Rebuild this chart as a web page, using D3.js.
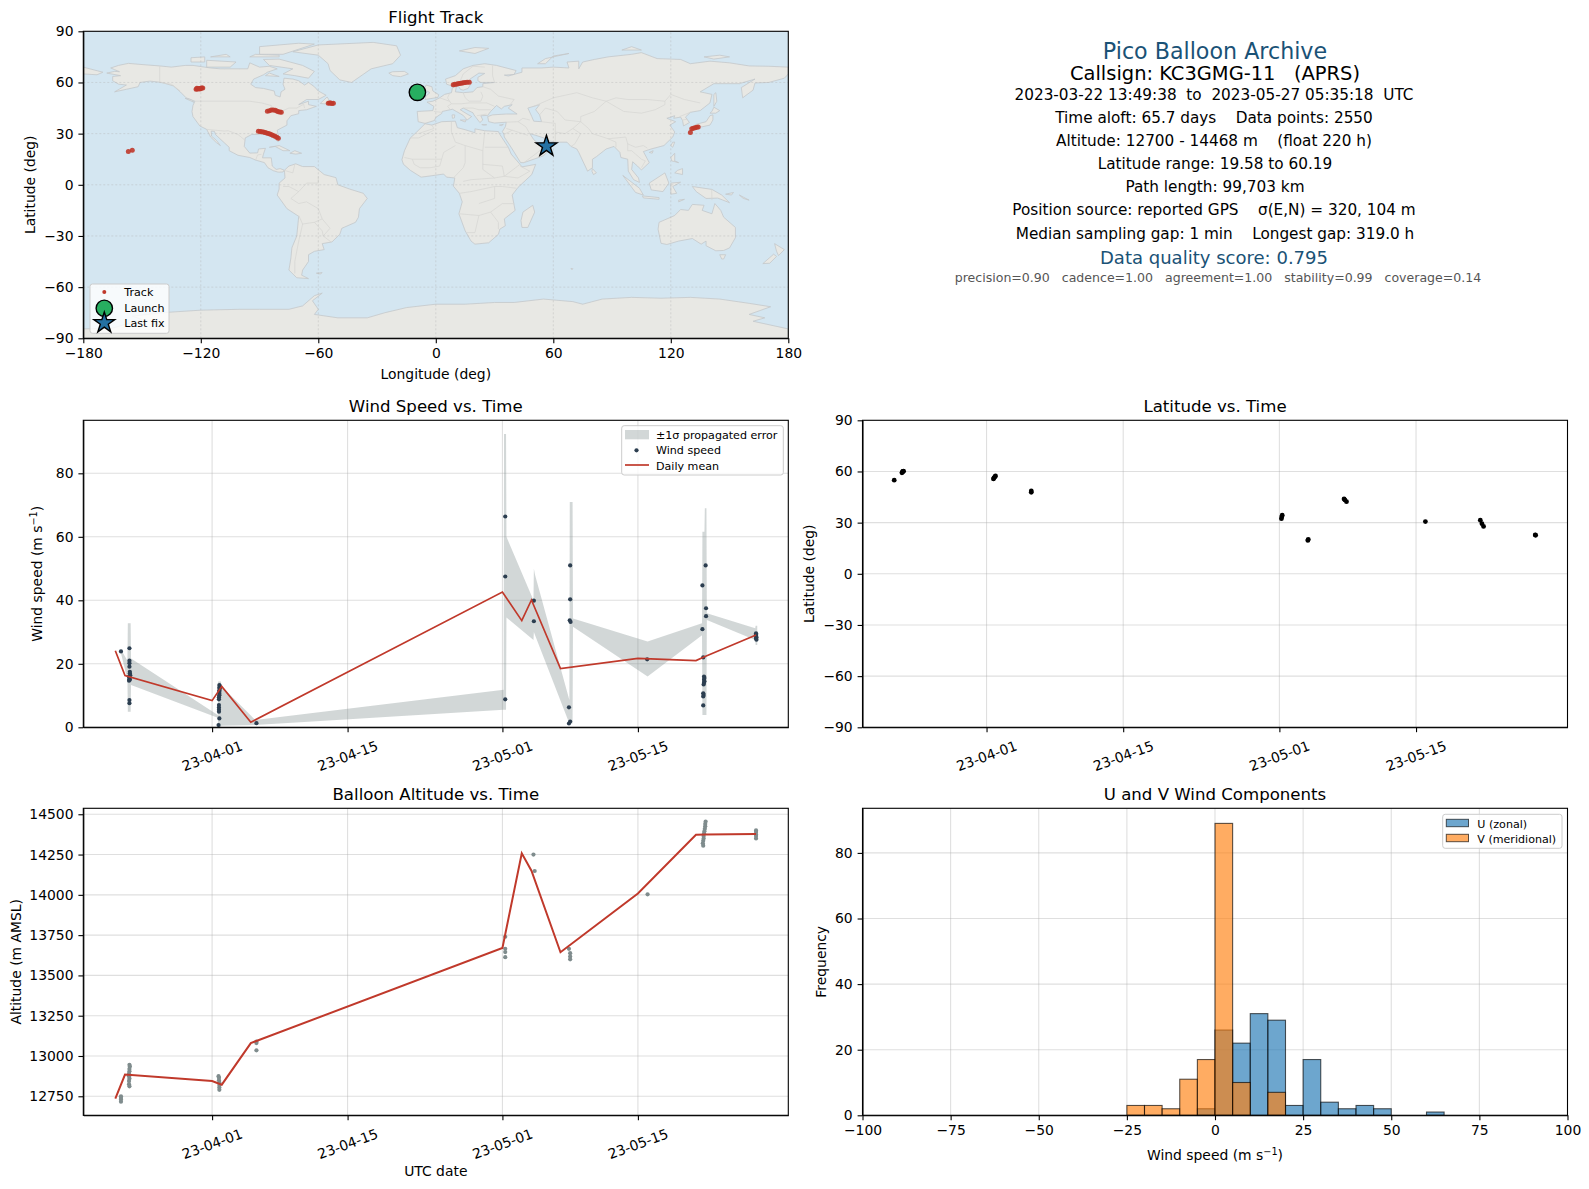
<!DOCTYPE html>
<html>
<head>
<meta charset="UTF-8">
<title>Pico Balloon Archive</title>
<script src="https://d3js.org/d3.v7.min.js"></script>
<style>
    body { margin: 0; background: #fff; }
    text { font-family: "DejaVu Sans", sans-serif; fill: #000; white-space: pre; }
    .tick line, .domain { stroke: #000; stroke-width: 1.1px; }
</style>
</head>
<body>
<svg id="fig" width="1589" height="1189"></svg>
<script>
// ---- values ----
var dateTicks = ["2023-04-01", "2023-04-15", "2023-05-01", "2023-05-15"];

var meanTimes = ["03-22 00", "03-23 00", "04-01 00", "04-02 00", "04-05 00", "05-01 00", "05-03 00", "05-04 00", "05-07 00", "05-15 00", "05-21 00", "05-22 00", "05-27 05"];
var meanWind = [24.1, 16.3, 8.4, 12.9, 1.6, 42.6, 33.6, 40.1, 18.5, 21.7, 21, 22.4, 29.1];
var meanAlt = [12735, 12885, 12845, 12822, 13080, 13670, 14258, 14150, 13644, 14008, 14373, 14375, 14378];

var bandTimes = ["03-22 14", "03-23 06", "03-23 07", "03-23 14", "03-23 15", "04-01 14", "04-01 15", "04-01 22", "04-01 23", "04-05 11", "05-01 03", "05-01 04", "05-01 09", "05-01 10", "05-04 05", "05-04 06", "05-04 09", "05-07 22", "05-07 23", "05-08 06", "05-08 07", "05-16 00", "05-21 15", "05-21 16", "05-21 21", "05-21 22", "05-22 02", "05-22 03", "05-27 03", "05-27 04", "05-27 08"];
var bandUpper = [24.5, 21, 32.8, 32.8, 21.7, 3.9, 14.4, 14.4, 13, 2.3, 11.8, 92.4, 92.4, 60, 40, 50, 48, 8.6, 71, 71, 34.3, 27, 32.8, 61.6, 61.6, 69, 69, 35.9, 31.2, 32, 32];
var bandLower = [23.3, 15, 4.9, 4.9, 13.3, 3, 0, 0, 0.5, 0.7, 5.5, 5.5, 5.5, 34.6, 27.5, 30, 29, 1.2, 1.2, 1.2, 31.7, 16, 29, 3.9, 3.9, 3.9, 3.9, 33.8, 27.5, 25.9, 25.9];

var windTimes = ["03-22 14", "03-23 11", "03-23 11", "03-23 11", "03-23 11", "03-23 12", "03-23 12", "03-23 13", "03-23 10", "03-23 11", "03-23 11", "03-23 12", "03-23 10", "03-23 11", "03-23 11",
    "04-01 18", "04-01 19", "04-01 18", "04-01 19", "04-01 18", "04-01 18", "04-01 18", "04-01 18", "04-01 17", "04-01 17", "04-01 17", "04-01 17", "04-01 17", "04-01 17", "04-01 18", "04-01 16", "04-05 14",
    "05-01 07", "05-01 07", "05-01 07", "05-04 06", "05-04 06", "05-07 21", "05-07 21", "05-08 00", "05-08 00", "05-08 00", "05-07 23", "05-08 01",
    "05-15 23", "05-22 00", "05-21 16", "05-22 01", "05-22 01", "05-21 16", "05-21 18", "05-21 20", "05-21 21", "05-21 20", "05-21 21", "05-21 20", "05-21 19", "05-21 18", "05-21 19", "05-21 18", "05-21 18",
    "05-27 05", "05-27 05", "05-27 05", "05-27 06", "05-27 05", "05-27 06"];
var windValues = [23.9, 24.9, 21, 20.2, 19.1, 17.5, 17, 16.4, 16, 15.6, 15.1, 15, 14.7, 8.6, 7.6,
    13.3, 13, 12.5, 12.2, 11.7, 11.2, 10.6, 10.1, 9.5, 8.8, 7, 6.2, 5.5, 4.9, 2.8, 0.7, 1.3,
    66.4, 47.5, 8.8, 39.9, 33.4, 6.3, 1.2, 1.8, 51, 40.3, 33.7, 33.2,
    21.4, 51, 44.7, 37.5, 35, 30.9, 22, 16, 15.5, 15, 14.5, 14, 13.5, 10.7, 10.2, 9.7, 6.9,
    29.6, 29.2, 28.8, 28.4, 28, 27.6];

var latTimes = ["03-22 13", "03-23 08", "03-23 09", "03-23 10", "03-23 11", "03-23 12", "04-01 17", "04-01 18", "04-01 20", "04-01 21", "04-01 22", "04-05 14", "04-05 14", "05-01 05", "05-01 06", "05-01 07", "05-03 22", "05-03 23", "05-07 15", "05-07 17", "05-07 21", "05-15 23", "05-21 14", "05-21 18", "05-21 22", "05-27 05", "05-27 06"];
var latValues = [54.9, 59.2, 59.6, 60, 60.1, 60.19, 55.6, 56.1, 56.7, 57, 57.4, 48.6, 47.8, 32.3, 33.4, 34.4, 19.58, 20.2, 43.9, 43.3, 42.3, 30.6, 31.4, 29.4, 27.8, 22.8, 22.6];

var altTimes = ["03-22 14", "03-22 14", "03-22 14", "03-22 14",
    "03-23 11", "03-23 12", "03-23 11", "03-23 11", "03-23 10", "03-23 10", "03-23 11", "03-23 10", "03-23 10", "03-23 11",
    "04-01 16", "04-01 17", "04-01 17", "04-01 18", "04-01 18", "04-01 18", "04-01 18",
    "04-05 14", "04-05 14", "04-05 14",
    "05-01 07", "05-01 07", "05-01 07", "05-01 07",
    "05-04 05", "05-04 08",
    "05-07 21", "05-08 00", "05-08 00", "05-08 00",
    "05-16 00",
    "05-22 00", "05-21 23", "05-21 23", "05-21 22", "05-21 21", "05-21 20", "05-21 19", "05-21 19", "05-21 18", "05-21 17", "05-21 18",
    "05-27 05", "05-27 05", "05-27 05", "05-27 05", "05-27 05"];
var altValues = [12750, 12740, 12730, 12716,
    12945, 12935, 12920, 12905, 12890, 12875, 12860, 12845, 12825, 12812,
    12875, 12865, 12850, 12835, 12820, 12805, 12790,
    13090, 13080, 13035,
    13740, 13665, 13645, 13613,
    14250, 14148,
    13665, 13638, 13617, 13600,
    14003,
    14455, 14440, 14425, 14410, 14395, 14380, 14365, 14350, 14335, 14320, 14305,
    14400, 14390, 14375, 14365, 14350];

var binEdges = [-25, -20, -15, -10, -5, 0, 5, 10, 15, 20, 25, 30, 35, 40, 45, 50, 55, 60, 65];
var uCounts = [0, 0, 0, 0, 2, 26, 22, 31, 29, 3, 17, 4, 2, 3, 2, 0, 0, 1];
var vCounts = [3, 3, 2, 11, 17, 89, 10, 0, 7, 0, 0, 0, 0, 0, 0, 0, 0, 0];

var trackLon = [-157, -155, -122.4, -121.8, -121.2, -120.6, -120, -119.5, -119, -122, -120.5, -54.9, -54.2, -53.6, -53, -52.3, -86, -85, -84, -83, -82, -81.2, -80.4, -79.6, -78.9, -90.6, -89.7, -88.9, -88, -87.2, -86.4, -85.5, -84.7, -83.8, -83, -82.1, -81.2, -80.4, 8.9, 9.7, 10.5, 11.2, 12, 12.8, 13.5, 14.2, 15, 16, 17.1, 130, 130.7, 131.5, 132.4, 133.2, 134];
var trackLat = [19.58, 20.2, 56, 56.2, 56.3, 56.5, 56.6, 56.7, 56.8, 56.6, 56.2, 47.8, 48, 47.9, 47.7, 47.8, 43.1, 43.4, 43.9, 43.9, 43.7, 43.3, 42.9, 42.7, 42.5, 31.4, 31.3, 31.1, 30.9, 30.6, 30.4, 30.1, 29.8, 29.3, 28.9, 28.4, 27.9, 27.3, 58.7, 58.9, 59, 59.2, 59.4, 59.5, 59.7, 59.9, 60, 60.1, 60.19, 30.6, 32.9, 33.1, 33.5, 33.7, 33.9];
var launchPos = [-9.4, 54.2];
var lastFix = [56.5, 22.6];

var infoLines = [
    ["Pico Balloon Archive", 50.7, 22.2, "#1a5276", 0],
    ["Callsign: KC3GMG-11   (APRS)", 73.5, 19.44, "#000", 0],
    ["2023-03-22 13:49:38  to  2023-05-27 05:35:18  UTC", 94.5, 15.28, "#000", -1],
    ["Time aloft: 65.7 days    Data points: 2550", 117.6, 15.28, "#000", -1],
    ["Altitude: 12700 - 14468 m    (float 220 h)", 140.8, 15.28, "#000", -1],
    ["Latitude range: 19.58 to 60.19", 163.5, 15.28, "#000", 0],
    ["Path length: 99,703 km", 186.5, 15.28, "#000", 0],
    ["Position source: reported GPS    \u03c3(E,N) = 320, 104 m", 209.8, 15.28, "#000", -1],
    ["Median sampling gap: 1 min    Longest gap: 319.0 h", 233, 15.28, "#000", 0],
    ["Data quality score: 0.795", 257.3, 18.05, "#1a5276", -1],
    ["precision=0.90   cadence=1.00   agreement=1.00   stability=0.99   coverage=0.14", 277.7, 12.55, "#555", 3]
];

// rough coastlines, lon/lat
var land = [
    [[-168,65.5],[-164,66.5],[-161.5,66.3],[-164,67.5],[-166,68.5],[-162,70],[-157,71.2],[-150,70.5],[-141,69.7],[-135,69],[-128,70],[-124,70],[-115,68.5],[-110,68],[-108,68],[-100,68],[-96,68],[-95,71.5],[-90,69],[-85,69.5],[-81,68],[-86,66],[-88,64.5],[-93,62],[-94.5,59],[-92,57],[-88,56.5],[-82.5,55],[-82,52.5],[-79.5,51.5],[-79,54.5],[-77,56],[-78,59],[-77.5,62.5],[-73,62],[-70,61],[-67,58.5],[-65,60],[-62,57.5],[-60,55],[-56,52.5],[-60,50],[-66,50],[-70,47],[-65,49],[-65,47],[-61,46],[-66,44],[-70,43.5],[-70,41.7],[-74,40.5],[-76,37.5],[-76,35],[-81,32],[-80,27],[-80.5,25.2],[-82,27],[-83,29.5],[-85,29.7],[-90,29.5],[-94,29.5],[-97.3,27.5],[-97.8,22.5],[-95,18.6],[-91,18.7],[-90.5,21],[-87,21.4],[-88,18],[-88.5,15.8],[-84,15.8],[-83.5,11],[-81.5,9],[-79.5,9.5],[-77.4,8.6],[-78,7.5],[-80.5,7.4],[-83,8.3],[-85.7,10],[-87.5,13],[-92,14.5],[-95,16],[-101,17.3],[-105.5,20],[-105.5,22],[-109,25.7],[-112.5,29.5],[-113,31.3],[-114.7,31.5],[-114.5,28.5],[-112,26],[-110,23],[-112,24.7],[-115,28],[-117,32.5],[-120.5,34.5],[-124,40],[-124.5,43],[-124,46.5],[-123,49],[-127.5,51],[-130.5,54.5],[-134,58],[-140,60],[-146,60.8],[-151,60],[-152,57.5],[-158,56],[-164,54.5],[-158,58.5],[-162,59],[-165,61],[-165,63.5],[-161,64]],
    [[-9,37],[-9.5,43],[-1.5,43.5],[-1,46],[-4.5,48.5],[-1.5,49],[2,51],[4.5,53],[8,54],[8.5,57],[10.5,57.5],[10,54.5],[14,54],[19,54.5],[21,57],[24,57.5],[24,59.3],[30,60],[23,60],[21.5,61],[21.5,63],[25,65.3],[22,65.5],[17.5,62],[18,59.5],[16.5,56.5],[14,55.5],[12.5,56],[11,59],[8,58],[5.5,59],[5,62],[10,64],[14,68],[19,70],[25,71],[31,70],[41,67],[40,64.7],[35,64.3],[37,63.8],[44,66],[44,68.5],[54,68.5],[60,69],[68,68.5],[67,72],[73,72.5],[73,68],[75,72],[81,73.5],[88,75],[100,76.5],[105,77.5],[113,74],[125,73.5],[130,71],[140,72.5],[150,71.5],[160,69.7],[170,69.5],[180,69],[180,65],[178,62.5],[170,60],[163,59.7],[162,55.5],[156.7,51],[156,57],[163,62],[155,59.3],[142,59.3],[135,54.5],[141,53],[140,48],[135,43.5],[130,42.5],[127.5,39.7],[129.5,36.5],[126.5,34.5],[126,37.7],[125,39.7],[121.5,39],[122,40.5],[118,39],[122.5,37],[119.5,35],[122,31],[121,28],[116.5,23],[110,21],[106,19.5],[109,13],[105,8.7],[103,11],[100.5,13.5],[100,9],[103.5,4],[104,1.4],[101,3],[98.3,8],[98,15],[94.5,16],[94,19],[91,22.5],[87,21],[82,16.5],[80,15],[80,10],[77.5,8],[73,19],[72,21],[69,22.5],[67,25],[61,25],[57,26],[56.5,27],[51,29],[48,30],[50,26.5],[51.5,25],[54,24],[56,25.5],[59.5,22.5],[55,17],[45,13],[43.3,13],[39,21],[35,28],[34.8,29.5],[34,31.2],[35.5,34],[36,36.7],[30,36.2],[27,37],[26.5,40],[29,41],[36,41.5],[41.5,41.5],[37,45],[39,47],[35,46],[33.5,44.5],[31,46.5],[28,43],[26.5,40.7],[23,40.5],[24,38],[22.5,36.5],[19.5,41],[19,42.2],[14,45],[12.5,44],[16,41.5],[18.3,40],[16,38],[14,40.7],[10.5,43],[8.5,44.3],[3.3,43],[3,41.8],[0,39.5],[-0.7,37.7],[-5.5,36]],
    [[-180,69],[-175,67.5],[-170,66],[-173,64.5],[-180,65]],
    [[-5.5,35.8],[-2,35],[3,37],[10,37.3],[11,33.5],[15,32.3],[20,30.5],[20,32.8],[25,31.7],[32,31.2],[32.5,29.9],[37,22],[38.5,18],[43,12],[44,10.5],[51,12],[49,6],[42,-1.5],[39,-6],[40.5,-15],[35,-20],[35.5,-24],[32.7,-26],[32,-29],[27,-34],[20,-34.8],[18,-33],[15,-27],[11.8,-17],[13.5,-10],[12,-5],[9,-0.8],[9.7,4],[5.5,4.5],[4,6.3],[-4,5],[-7.5,4.5],[-13,8.5],[-16.5,12],[-17.3,14.7],[-16,20],[-13,27.5],[-9.7,31]],
    [[-77.3,8.5],[-75,11],[-71.5,12.3],[-68,10.7],[-62,10.7],[-57,6],[-51,4.2],[-50,0],[-44,-2.5],[-37,-5],[-35,-8],[-39,-14],[-39.5,-19],[-41,-22],[-48,-25.5],[-49,-29],[-53,-33.5],[-58,-34.5],[-57,-38],[-62,-39],[-65,-41],[-65,-45],[-68,-50],[-68.5,-53],[-65,-55],[-71,-54.5],[-75,-50],[-74,-43],[-73.5,-37],[-71,-30],[-70,-18.5],[-76,-14],[-81,-6],[-80,-2.5],[-80,1],[-77,4]],
    [[114,-22],[113.5,-26],[115,-34.3],[118,-35],[124,-33],[131,-31.5],[135.5,-34.8],[138,-33],[138,-35.7],[143,-38.7],[147,-38.5],[150,-37],[153,-31],[153,-25],[147,-19],[145.5,-15],[142.5,-11],[141,-17],[136,-15],[137,-12],[131,-11.5],[129,-15],[125,-14.5],[122,-18]],
    [[-73,78],[-60,82],[-32,83.5],[-20,81.5],[-18,76],[-22,71],[-33,68],[-43,60],[-49,61.5],[-54,67],[-55,71],[-60,76]],
    [[-180,-90],[-180,-84.5],[-165,-84],[-150,-79],[-155,-77],[-140,-75],[-120,-73.5],[-100,-73],[-90,-73],[-75,-73],[-68,-71],[-62,-65],[-58,-63.5],[-63,-68],[-60,-73],[-62,-76],[-50,-78],[-35,-78],[-26,-75],[-15,-72],[0,-70],[15,-70],[30,-69],[40,-69],[55,-67],[70,-68.5],[75,-70],[85,-67],[100,-66],[115,-66.5],[130,-66],[145,-67],[160,-69.5],[171,-71.5],[160,-76],[168,-78],[162,-80],[180,-84.5],[180,-90]],
    [[-5.5,50],[1,51.2],[1.5,52.8],[-1.5,55],[-2,57.5],[-5,58.5],[-6,56],[-3,54],[-5,52]],
    [[-10,52],[-6,52.2],[-6,55],[-9.5,54.5]],
    [[-24,65.5],[-22,64],[-18,63.4],[-14,65],[-16,66.5],[-22,66.3]],
    [[12,78.5],[20,80.5],[27,80],[20,77]],
    [[52,71],[56,74],[68,77],[60,75.5],[56,71]],
    [[95,79],[105,79],[100,81]],
    [[137,75],[145,76],[150,75],[142,73.7]],
    [[142,46],[143.5,49],[143,54],[142,53]],
    [[131,34],[136,34],[140,35],[141.5,38],[141.5,41],[140,40.5],[138,37],[133,35.5]],
    [[140,42],[143,42],[145,43.5],[142,45.5],[141,43]],
    [[130,31.5],[132,33],[130,33.5]],
    [[120,23],[121,25],[122,25],[121,22]],
    [[109,19],[111,20],[110.5,18.5]],
    [[120,16],[122,18.5],[122,14],[124,13],[120.5,14]],
    [[122,7],[126,6],[126,9.5],[123.5,8.5]],
    [[109,1],[117,7],[119,1],[116,-4],[110,-3]],
    [[95.5,5.5],[104,-2],[106,-6],[102,-4.5]],
    [[105.5,-6.5],[114,-7.5],[114,-8.5],[106,-7.7]],
    [[120,1],[125,1.5],[121,-1],[123,-5],[120,-5.5]],
    [[124,-10],[127,-8.5],[124,-9]],
    [[131,-1],[141,-2.7],[146,-6],[150,-10.5],[144,-7.8],[138,-8],[133,-4]],
    [[148,-5.5],[152,-4.5],[151,-6]],
    [[155,-6],[160,-9],[157,-8]],
    [[173,-34.5],[178,-38],[175,-41.5],[174,-39]],
    [[172.5,-40.7],[174,-42],[170.5,-46],[167,-46.2]],
    [[145,-41],[148,-41],[147,-43.5],[146,-43.5]],
    [[49.5,-12],[50.5,-16],[47,-25],[44,-25],[43.5,-21],[44.5,-16]],
    [[80,9.5],[82,7],[80.5,6],[79.7,8]],
    [[-85,22],[-80,23],[-74.5,20],[-78,20],[-82,22.5]],
    [[-74.5,18.5],[-72,20],[-68.5,18.5],[-71.5,18]],
    [[-59,47.7],[-55.5,51.5],[-53,47]],
    [[-128,50.7],[-123.5,48.4],[-125,50]],
    [[-80,73.7],[-68,70],[-62,66.5],[-65,62.5],[-72,64],[-78,65],[-73,68],[-85,70],[-88,73.5]],
    [[-117,69],[-105,69],[-102,72],[-117,73]],
    [[-125,72],[-118,72],[-118,75],[-125,74.5]],
    [[-90,76.5],[-78,76.5],[-62,82.5],[-70,83],[-90,81]],
    [[-95,75],[-80,75],[-80,76],[-92,76.5]],
    [[-115,75],[-105,75],[-107,76.5]],
    [[-87,64],[-80,63.5],[-85,65.5]],
    [[-61,-51.8],[-58,-51.5],[-59,-52.3]],
    [[69,-49],[70,-49.2],[69.5,-49.8]],
    [[-156,20],[-155,19.2],[-155.7,20.2]],
    [[23.5,35.3],[26,35.2],[24.5,35]],
    [[12.5,38],[15.5,38],[15,36.8]],
    [[8.3,41],[9.7,41],[9.5,39.2],[8.5,39]],
    [[32.5,35],[34.5,35.5],[33.7,34.7]]
];
var lakes = [
    [[47,45],[53,47],[51,44],[53,41],[54,37],[50,37.3],[49,40]]
];
var borders = [
    [[-123,49],[-95,49],[-89,48],[-84,46.5],[-82.5,43],[-79,43],[-75,45],[-71,45],[-67.5,47.2],[-67,45]],
    [[-141,69.7],[-141,60],[-135,59],[-130.5,55]],
    [[-117,32.5],[-108,31.5],[-106,31.7],[-101,29.5],[-97.3,26]],
    [[-92,14.5],[-91,17.5],[-89,17.9]],
    [[-77.5,8.5],[-73,7],[-72,12]],
    [[-70,-4],[-74,-8],[-70,-11],[-66,-10],[-60,-14],[-58,-20],[-54,-25.5],[-57.5,-30],[-53.5,-33.5]],
    [[-70,-18],[-68,-23],[-70,-33],[-72,-45],[-72,-52]],
    [[-60,5],[-60,1],[-66,1],[-70,-4]],
    [[-78,-1],[-75,-1],[-70,-4]],
    [[-68,-23],[-62,-22],[-58,-20]],
    [[-62,-22],[-58,-27],[-57.5,-30]],
    [[-1,43],[3,42.5]],
    [[2,51],[7,49],[8,47.5],[6,46],[7.5,44]],
    [[7,53.5],[6,51],[7,49]],
    [[14,54],[15,51],[17,49],[23,49],[24,52],[23,54.5]],
    [[8,47.5],[13,47.5],[17,48],[22,48],[26,48],[30,46]],
    [[12,59],[12.5,61],[14,65],[19,69.5],[25,69]],
    [[30,60],[29,64],[29,70]],
    [[24,57.5],[28,56],[32,52],[40,50],[38,47]],
    [[14,45],[19,45],[22,44],[28,44]],
    [[21,40.5],[26,41.5]],
    [[36,36.7],[42,37],[44.5,39],[48,38]],
    [[42,37],[46,34],[48,30]],
    [[36,33],[39,32],[47,29]],
    [[45,13],[52,19],[55,22],[56,25]],
    [[39,32],[34.8,29.5]],
    [[61,25],[61,31],[61,36],[54,37]],
    [[61,31],[66,30],[70,33],[74,37]],
    [[53,41],[56,45],[62,43],[66,38],[74,37]],
    [[50,46],[60,51],[72,54],[80,51],[87,49]],
    [[87,49],[92,51],[98,50],[108,50],[117,49],[120,53],[127,50],[135,48]],
    [[87,49],[81,43],[74,40],[74,37]],
    [[87,49],[96,43],[105,42],[112,44],[117,47],[117,49]],
    [[74,37],[78,33],[80,30],[88,27],[97,28],[98,24],[102,22],[106,23],[108,21.5]],
    [[70,33],[74,30],[71,24],[69,22.5]],
    [[88,27],[92,25],[92,22]],
    [[98,24],[98,20],[100,20],[102,18],[105,15],[107,14],[105,10]],
    [[124.5,40],[130,42.5]],
    [[126,38],[128.5,38.5]],
    [[-9,30],[-1,33],[-2,35]],
    [[-13,27.5],[-8.7,27.5],[-1,32]],
    [[8,37],[8,31],[10,25],[15,23],[24,20],[25,31.7]],
    [[25,22],[37,22]],
    [[-16,16],[-12,15],[-5,15],[3,15],[4,19],[10,23]],
    [[-12,15],[-11,12],[-8,10],[-3,10],[2,11],[3,15]],
    [[15,23],[15,13],[14,10],[9,4]],
    [[24,20],[24,9],[30,4],[35,5],[42,4]],
    [[24,12],[34,11],[35,5],[43,12]],
    [[42,4],[48,8],[43,11]],
    [[12,-5],[18,-4],[30,-1],[34,-1],[41,-2]],
    [[14,2],[18,3],[30,4]],
    [[12,-17],[22,-18],[28,-16],[34,-11],[40,-11]],
    [[22,-18],[20,-28],[16,-28]],
    [[28,-16],[32,-22],[32,-26]],
    [[22,-11],[30,-8],[30,-1]],
    [[140.9,-2.7],[141,-9]]
];

// ---- layout ----
var col1 = [83.3, 788.3], col2 = [862.5, 1567.5];
var row1 = [338.3, 31.3], row2 = [727.3, 420.3], row3 = [1115.3, 808.3];
var parseT = d3.utcParse("%Y-%m-%d %H");
var T = function(s) { return parseT("2023-" + s); };
var parseD = d3.utcParse("%Y-%m-%d");
var tickDates = dateTicks.map(function(d) { return parseD(d); });
var tickFmt = d3.utcFormat("%y-%m-%d");
var minusFmt = function(d) { return String(d).replace("-", "\u2212"); };

var svg = d3.select("#fig");
var fig = svg.append("g");
var defs = svg.append("defs");

function panel(x, y, id) {
    defs.append("clipPath").attr("id", id).append("rect")
        .attr("x", x.range()[0]).attr("y", y.range()[1])
        .attr("width", x.range()[1] - x.range()[0]).attr("height", y.range()[0] - y.range()[1]);
    return fig.append("g").attr("clip-path", "url(#" + id + ")");
}

function grid(g, x, xVals, y, yVals, dash) {
    g.selectAll(".vg").data(xVals).enter().append("line")
        .attr("x1", function(d) { return x(d); }).attr("x2", function(d) { return x(d); })
        .attr("y1", y.range()[0]).attr("y2", y.range()[1])
        .attr("stroke", "#b0b0b0").attr("stroke-opacity", dash ? 0.55 : 0.4).attr("stroke-width", dash ? 0.7 : 1.1)
        .attr("stroke-dasharray", dash ? "2,2" : null);
    g.selectAll(".hg").data(yVals).enter().append("line")
        .attr("x1", x.range()[0]).attr("x2", x.range()[1])
        .attr("y1", function(d) { return y(d); }).attr("y2", function(d) { return y(d); })
        .attr("stroke", "#b0b0b0").attr("stroke-opacity", dash ? 0.55 : 0.4).attr("stroke-width", dash ? 0.7 : 1.1)
        .attr("stroke-dasharray", dash ? "2,2" : null);
}

function frame(x, y, xAxis, yAxis, rotate) {
    var g = fig.append("g");
    var xg = g.append("g").attr("transform", "translate(0," + y.range()[0] + ")").call(xAxis.tickSizeInner(4.9).tickSizeOuter(0).tickPadding(4.9));
    var yg = g.append("g").attr("transform", "translate(" + x.range()[0] + ",0)").call(yAxis.tickSizeInner(4.9).tickSizeOuter(0).tickPadding(4.9));
    g.selectAll(".tick text").style("font-size", "13.9px").style("font-family", '"DejaVu Sans"').attr("fill", "#000");
    g.append("rect").attr("x", x.range()[0]).attr("y", y.range()[1])
        .attr("width", x.range()[1] - x.range()[0]).attr("height", y.range()[0] - y.range()[1])
        .attr("fill", "none").attr("stroke", "#000").attr("stroke-width", 1.1);
    if (rotate) {
        xg.selectAll(".tick text").attr("text-anchor", "middle").attr("y", 0).attr("dy", 0)
            .attr("transform", "translate(0,29.5) rotate(-20)").attr("dominant-baseline", "middle");
    }
}

function title(x, y, s) {
    fig.append("text").attr("x", (x.range()[0] + x.range()[1]) / 2).attr("y", y.range()[1] - 8.5)
        .attr("text-anchor", "middle").style("font-size", "16.6px").text(s);
}
function xlabel(x, yPos, s) {
    return fig.append("text").attr("x", (x.range()[0] + x.range()[1]) / 2).attr("y", yPos)
        .attr("text-anchor", "middle").style("font-size", "13.9px").text(s);
}
function ylabel(xPos, y, s) {
    return fig.append("text").attr("transform", "translate(" + xPos + "," + (y.range()[0] + y.range()[1]) / 2 + ") rotate(-90)")
        .attr("text-anchor", "middle").style("font-size", "13.9px").text(s);
}
function unitLabel(t, before) {
    t.text(before);
    t.append("tspan").attr("dy", -5).style("font-size", "9.7px").text("\u22121");
    t.append("tspan").attr("dy", 5).text(")");
}
function legendBox(x0, y0, w, h) {
    fig.append("rect").attr("x", x0).attr("y", y0).attr("width", w).attr("height", h).attr("rx", 2.5)
        .attr("fill", "#fff").attr("fill-opacity", 0.8).attr("stroke", "#ccc").attr("stroke-width", 1);
}
function legendText(x0, y0, s) {
    fig.append("text").attr("x", x0).attr("y", y0).attr("dy", "0.36em").style("font-size", "11.1px").text(s);
}

// ---- flight track map ----
var xMap = d3.scaleLinear().domain([-180, 180]).range(col1);
var yMap = d3.scaleLinear().domain([-90, 90]).range(row1);
var gMap = panel(xMap, yMap, "clipMap");
gMap.append("rect").attr("x", col1[0]).attr("y", row1[1]).attr("width", col1[1] - col1[0]).attr("height", row1[0] - row1[1]).attr("fill", "#d4e6f1");
var landLine = d3.line().x(function(d) { return xMap(d[0]); }).y(function(d) { return yMap(d[1]); });
gMap.selectAll(".land").data(land).enter().append("path")
    .attr("d", function(d) { return landLine(d) + "Z"; })
    .attr("fill", "#e8e8e4").attr("stroke", "#c4c8ca").attr("stroke-width", 0.8).attr("stroke-linejoin", "round");
gMap.selectAll(".lake").data(lakes).enter().append("path")
    .attr("d", function(d) { return landLine(d) + "Z"; })
    .attr("fill", "#d4e6f1").attr("stroke", "#c4c8ca").attr("stroke-width", 0.8);
gMap.selectAll(".border").data(borders).enter().append("path")
    .attr("d", landLine).attr("fill", "none").attr("stroke", "#d6d6d2").attr("stroke-width", 0.7);
grid(gMap, xMap, [-120, -60, 0, 60, 120], yMap, [-60, -30, 0, 30, 60], true);
gMap.selectAll(".trk").data(trackLon).enter().append("circle")
    .attr("cx", function(d) { return xMap(d); })
    .attr("cy", function(d, i) { return yMap(trackLat[i]); })
    .attr("r", 2.5).attr("fill", "#c0392b").attr("fill-opacity", 0.9);
var starPath = d3.symbol().type(d3.symbolStar).size(135);
gMap.append("circle").attr("cx", xMap(launchPos[0])).attr("cy", yMap(launchPos[1])).attr("r", 8.2)
    .attr("fill", "#27ae60").attr("stroke", "#000").attr("stroke-width", 1.4);
gMap.append("path").attr("d", starPath()).attr("transform", "translate(" + xMap(lastFix[0]) + "," + yMap(lastFix[1]) + ")")
    .attr("fill", "#2471a3").attr("stroke", "#000").attr("stroke-width", 1.4);
frame(xMap, yMap, d3.axisBottom(xMap).tickValues([-180, -120, -60, 0, 60, 120, 180]).tickFormat(minusFmt),
    d3.axisLeft(yMap).tickValues([-90, -60, -30, 0, 30, 60, 90]).tickFormat(minusFmt));
title(xMap, yMap, "Flight Track");
xlabel(xMap, 379, "Longitude (deg)");
ylabel(35, yMap, "Latitude (deg)");
legendBox(90, 284, 79, 49.3);
fig.append("circle").attr("cx", 104.3).attr("cy", 292).attr("r", 2).attr("fill", "#c0392b");
fig.append("circle").attr("cx", 104.3).attr("cy", 308.3).attr("r", 8.2).attr("fill", "#27ae60").attr("stroke", "#000").attr("stroke-width", 1.4);
fig.append("path").attr("d", starPath()).attr("transform", "translate(104.3,323)").attr("fill", "#2471a3").attr("stroke", "#000").attr("stroke-width", 1.4);
legendText(124.3, 292, "Track");
legendText(124.3, 308.3, "Launch");
legendText(124.3, 323, "Last fix");

// ---- info panel ----
var infoX = (col2[0] + col2[1]) / 2;
fig.selectAll(".info").data(infoLines).enter().append("text")
    .attr("x", function(d) { return infoX + d[4]; }).attr("y", function(d) { return d[1]; }).attr("dy", "0.36em")
    .attr("text-anchor", "middle")
    .style("font-size", function(d) { return d[2] + "px"; })
    .style("fill", function(d) { return d[3]; })
    .text(function(d) { return d[0]; });

// ---- wind speed vs time ----
var tLeft = d3.scaleUtc().domain([Date.UTC(2023, 2, 18, 16, 34), Date.UTC(2023, 4, 30, 13)]).range(col1);
var yWind = d3.scaleLinear().domain([0, 96.7]).range(row2);
var gWind = panel(tLeft, yWind, "clipWind");
grid(gWind, tLeft, tickDates, yWind, [0, 20, 40, 60, 80]);
var bandArea = d3.area()
    .x(function(d) { return tLeft(T(d)); })
    .y0(function(d, i) { return yWind(bandLower[i]); })
    .y1(function(d, i) { return yWind(bandUpper[i]); });
gWind.append("path").attr("d", bandArea(bandTimes)).attr("fill", "#7f8c8d").attr("fill-opacity", 0.35);
gWind.selectAll(".ws").data(windTimes).enter().append("circle")
    .attr("cx", function(d) { return tLeft(T(d)); })
    .attr("cy", function(d, i) { return yWind(windValues[i]); })
    .attr("r", 2.1).attr("fill", "#2c3e50");
var windLine = d3.line().x(function(d) { return tLeft(T(d)); }).y(function(d, i) { return yWind(meanWind[i]); });
gWind.append("path").attr("d", windLine(meanTimes)).attr("fill", "none").attr("stroke", "#c0392b").attr("stroke-width", 1.7);
frame(tLeft, yWind, d3.axisBottom(tLeft).tickValues(tickDates).tickFormat(tickFmt), d3.axisLeft(yWind).tickValues([0, 20, 40, 60, 80]), true);
title(tLeft, yWind, "Wind Speed vs. Time");
unitLabel(ylabel(42, yWind, ""), "Wind speed (m s");
legendBox(621.7, 425.7, 161.6, 49.3);
fig.append("rect").attr("x", 625).attr("y", 430).attr("width", 24).attr("height", 9.3).attr("fill", "#7f8c8d").attr("fill-opacity", 0.35);
fig.append("circle").attr("cx", 636.5).attr("cy", 450.3).attr("r", 2.1).attr("fill", "#2c3e50");
fig.append("line").attr("x1", 625).attr("x2", 649).attr("y1", 465).attr("y2", 465).attr("stroke", "#c0392b").attr("stroke-width", 1.7);
legendText(656, 435.3, "\u00b11\u03c3 propagated error");
legendText(656, 450.3, "Wind speed");
legendText(656, 466, "Daily mean");

// ---- latitude vs time ----
var tRight = d3.scaleUtc().domain([Date.UTC(2023, 2, 19, 7, 2), Date.UTC(2023, 4, 30, 12, 23)]).range(col2);
var yLat = d3.scaleLinear().domain([-90, 90]).range(row2);
var gLat = panel(tRight, yLat, "clipLat");
grid(gLat, tRight, tickDates, yLat, [-60, -30, 0, 30, 60]);
gLat.selectAll(".lat").data(latTimes).enter().append("circle")
    .attr("cx", function(d) { return tRight(T(d)); })
    .attr("cy", function(d, i) { return yLat(latValues[i]); })
    .attr("r", 2.4).attr("fill", "#000");
frame(tRight, yLat, d3.axisBottom(tRight).tickValues(tickDates).tickFormat(tickFmt),
    d3.axisLeft(yLat).tickValues([-90, -60, -30, 0, 30, 60, 90]).tickFormat(minusFmt), true);
title(tRight, yLat, "Latitude vs. Time");
ylabel(814, yLat, "Latitude (deg)");

// ---- altitude vs time ----
var yAlt = d3.scaleLinear().domain([12632, 14537]).range(row3);
var gAlt = panel(tLeft, yAlt, "clipAlt");
var altTicks = [12750, 13000, 13250, 13500, 13750, 14000, 14250, 14500];
grid(gAlt, tLeft, tickDates, yAlt, altTicks);
gAlt.selectAll(".alt").data(altTimes).enter().append("circle")
    .attr("cx", function(d) { return tLeft(T(d)); })
    .attr("cy", function(d, i) { return yAlt(altValues[i]); })
    .attr("r", 2.1).attr("fill", "#7f8c8d");
var altLine = d3.line().x(function(d) { return tLeft(T(d)); }).y(function(d, i) { return yAlt(meanAlt[i]); });
gAlt.append("path").attr("d", altLine(meanTimes)).attr("fill", "none").attr("stroke", "#c0392b").attr("stroke-width", 2);
frame(tLeft, yAlt, d3.axisBottom(tLeft).tickValues(tickDates).tickFormat(tickFmt), d3.axisLeft(yAlt).tickValues(altTicks).tickFormat(d3.format("d")), true);
title(tLeft, yAlt, "Balloon Altitude vs. Time");
ylabel(21, yAlt, "Altitude (m AMSL)");
xlabel(tLeft, 1176, "UTC date");

// ---- U and V histogram ----
var xHist = d3.scaleLinear().domain([-100, 100]).range(col2);
var yHist = d3.scaleLinear().domain([0, 93.6]).range(row3);
var gHist = panel(xHist, yHist, "clipHist");
grid(gHist, xHist, [-75, -50, -25, 0, 25, 50, 75], yHist, [0, 20, 40, 60, 80]);
function bars(counts, colour) {
    gHist.selectAll(".b" + colour.slice(1)).data(counts).enter().append("rect")
        .attr("x", function(d, i) { return xHist(binEdges[i]); })
        .attr("width", function(d, i) { return xHist(binEdges[i + 1]) - xHist(binEdges[i]); })
        .attr("y", function(d) { return yHist(d); })
        .attr("height", function(d) { return yHist(0) - yHist(d); })
        .attr("fill", colour).attr("fill-opacity", 0.65)
        .attr("stroke", "#000").attr("stroke-opacity", 0.65).attr("stroke-width", 1.1);
}
bars(uCounts, "#1f77b4");
bars(vCounts, "#ff7f0e");
frame(xHist, yHist, d3.axisBottom(xHist).tickValues([-100, -75, -50, -25, 0, 25, 50, 75, 100]).tickFormat(minusFmt),
    d3.axisLeft(yHist).tickValues([0, 20, 40, 60, 80]));
title(xHist, yHist, "U and V Wind Components");
ylabel(826, yHist, "Frequency");
unitLabel(xlabel(xHist, 1160, ""), "Wind speed (m s");
legendBox(1442.7, 814.3, 119.3, 34);
fig.append("rect").attr("x", 1446.3).attr("y", 819.3).attr("width", 22.2).attr("height", 7.4).attr("fill", "#1f77b4").attr("fill-opacity", 0.65).attr("stroke", "#000").attr("stroke-opacity", 0.65);
fig.append("rect").attr("x", 1446.3).attr("y", 834.3).attr("width", 22.2).attr("height", 7.4).attr("fill", "#ff7f0e").attr("fill-opacity", 0.65).attr("stroke", "#000").attr("stroke-opacity", 0.65);
legendText(1477.3, 824, "U (zonal)");
legendText(1477.3, 839, "V (meridional)");
</script>
</body>
</html>
